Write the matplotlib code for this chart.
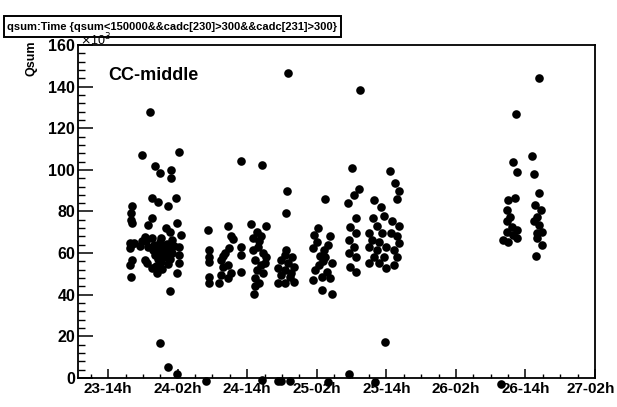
import matplotlib
matplotlib.use("Agg")
import matplotlib.pyplot as plt
import matplotlib.transforms as mtransforms
from matplotlib.patches import Rectangle

plt.rcParams['font.family'] = ['Liberation Sans', 'DejaVu Sans']

# time in hours since day 23, 00h ; qsum in units of 10^3
time_a = [18.2, 18.0, 18.0, 18.1, 17.8, 18.2, 17.8, 18.5, 18.2, 17.8, 17.9]
qsum_a = [82.7, 79.3, 75.9, 74.6, 64.9, 64.6, 62.5, 64.8, 56.7, 54.3, 48.6]

time_b = [21.2, 19.9, 26.3, 22.1, 23.0, 24.9, 24.9, 21.5, 22.6, 25.7, 24.4, 21.5,
          20.8, 25.9, 23.9, 24.7, 26.5, 20.3, 21.5, 23.2, 25.0, 26.2, 26.2, 20.4,
          20.7, 21.5, 22.4, 26.2, 25.9, 24.6,
          21.9, 22.4, 22.9, 23.4, 23.8, 24.2, 24.6, 22.0, 22.6, 23.1, 23.6, 24.1,
          24.6, 25.1, 22.3, 23.3, 24.4, 21.8, 23.0, 25.3, 20.9, 20.5, 19.8, 19.5,
          23.0, 24.3, 25.8, 30.9]
qsum_b = [128.0, 107.0, 108.8, 101.9, 98.7, 100.0, 95.9, 86.3, 84.7, 86.3, 82.7, 76.7,
          73.5, 74.6, 71.9, 70.3, 68.7, 67.6, 67.1, 67.1, 66.3, 63.1, 59.1, 56.7,
          55.1, 52.7, 50.3, 55.1, 50.3, 41.8,
          64.0, 62.0, 60.5, 63.0, 61.0, 58.5, 62.5, 59.0, 57.0, 55.5, 58.0, 64.5,
          57.0, 60.0, 54.0, 52.5, 55.0, 61.5, 65.5, 63.5, 63.0, 65.8, 66.0, 63.5,
          16.8, 5.3, 1.9, -1.3]

time_c = [31.2, 31.4, 31.4, 31.4, 31.4, 31.4, 34.6, 35.2, 34.9, 37.0, 37.0, 37.0,
          33.5, 33.8, 33.5, 33.2, 34.6, 35.2, 34.6, 35.5, 34.2, 33.9,
          37.0, 40.6, 44.9, 44.7, 45.1,
          38.7, 41.2, 39.6, 40.4, 39.0, 39.9, 40.7, 39.3, 41.0, 39.6, 40.7, 39.3,
          40.1, 39.3, 39.1, 41.3, 40.4, 39.0, 40.0,
          44.7, 45.7, 43.9, 45.1, 43.3, 44.5, 46.0, 43.9, 45.4, 43.3, 44.5, 46.0,
          44.5, 45.5,
          40.5, 43.3, 43.9, 45.4]
qsum_c = [71.1, 61.5, 58.3, 55.5, 48.6, 45.8, 73.0, 68.2, 62.3, 63.1, 59.1, 51.1,
          56.7, 53.5, 49.5, 45.8, 54.3, 50.3, 47.9, 67.0, 60.0, 58.5,
          104.4, 102.4, 89.7, 79.4, 146.7,
          74.0, 73.0, 70.3, 68.0, 67.1, 63.1, 59.9, 56.7, 55.1, 51.9, 50.3, 47.9,
          45.5, 44.0, 40.4, 58.3, 54.3, 61.5, 66.0,
          61.5, 58.3, 56.7, 55.1, 52.7, 51.9, 53.5, 49.5, 48.6, 45.5, 45.5, 46.3,
          59.0, 50.5,
          -0.8, -1.6, -1.6, -1.6]

time_d = [50.2, 49.6, 50.0, 49.4, 52.3, 52.0, 51.2, 51.4, 52.6, 50.3, 49.7, 51.7,
          50.9, 52.3, 49.4, 50.9, 52.6, 51.4, 50.6, 51.0, 51.9,
          56.0, 57.3, 56.4, 55.4, 57.5, 56.7, 55.8, 56.7, 55.5, 56.4, 55.5, 56.7,
          55.8, 56.7, 55.5]
qsum_d = [71.9, 68.7, 65.5, 62.3, 68.0, 63.9, 61.5, 58.3, 55.1, 54.3, 51.9, 51.1,
          48.6, 47.9, 47.1, 42.3, 40.4, 85.8, 58.5, 56.0, -2.0,
          100.7, 90.7, 87.9, 84.2, 138.4, 76.7, 72.4, 69.5, 66.3, 63.1, 59.9, 58.3,
          53.5, 51.1, 1.9]

time_e = [62.6, 63.5, 64.2, 63.9, 59.9, 61.0, 59.7, 60.4, 61.6, 63.0, 64.2, 59.0,
          61.3, 62.8, 63.9, 59.6, 60.7, 64.2, 59.0, 60.4, 61.9, 63.3, 59.9, 61.6,
          63.9, 59.0, 60.7, 63.3, 61.9, 61.8, 60.1]
qsum_e = [99.5, 93.5, 90.0, 85.9, 85.5, 82.3, 76.7, 72.8, 77.6, 75.3, 72.8, 69.5,
          69.5, 69.5, 68.0, 66.3, 65.5, 64.7, 63.1, 61.5, 63.1, 61.5, 58.3, 58.3,
          58.3, 55.1, 55.1, 54.3, 52.7, 17.4, -1.8]

time_f = [83.9, 84.5, 87.1, 87.4, 83.0, 84.2, 82.8, 83.3, 82.8, 83.6, 82.8, 83.9,
          82.2, 83.0, 84.5, 84.5, 88.3, 87.7, 88.6, 88.0, 87.4, 88.3, 88.8, 88.0,
          88.0, 88.8, 87.9, 88.3, 84.4, 81.7]
qsum_f = [104.0, 99.1, 106.7, 98.0, 85.5, 86.3, 80.7, 77.5, 75.3, 72.7, 70.3, 68.7,
          66.3, 65.5, 71.1, 67.1, 88.7, 83.1, 80.7, 77.5, 75.3, 73.5, 70.3, 69.5,
          67.1, 63.9, 58.6, 144.0, 126.9, -3.0]

tick_hours = [14, 26, 38, 50, 62, 74, 86, 98]
tick_labels = ['23-14h', '24-02h', '24-14h', '25-02h', '25-14h', '26-02h', '26-14h', '27-02h']
y_ticks = [0, 20, 40, 60, 80, 100, 120, 140, 160]

title = 'qsum:Time {qsum<150000&&cadc[230]>300&&cadc[231]>300}'

fig = plt.figure(figsize=(6.17, 4.07), dpi=100)
ax = fig.add_axes([78/617, 1 - 378/407, (595 - 78)/617, (378 - 45)/407])

times = time_a + time_b + time_c + time_d + time_e + time_f
qsums = qsum_a + qsum_b + qsum_c + qsum_d + qsum_e + qsum_f
ax.plot(times, qsums, 'o', color='black', ms=6.2, mew=0, clip_on=False, zorder=3)

ax.set_xlim(8.8, 98)
ax.set_ylim(0, 160)
ax.set_xticks(tick_hours)
ax.set_xticklabels(tick_labels, fontsize=11, fontweight='bold')
ax.set_xticks([h for h in range(11, 98, 3) if h not in tick_hours], minor=True)
ax.set_yticks(y_ticks)
ax.set_yticklabels([str(v) for v in y_ticks], fontsize=11.5, fontweight='bold')
ax.set_yticks([v for v in range(0, 161, 4) if v % 20], minor=True)

ax.tick_params(axis='y', which='major', direction='in', length=11, width=1.1, pad=2)
ax.tick_params(axis='y', which='minor', direction='in', length=5, width=1.0)
ax.tick_params(axis='x', which='major', direction='in', length=6.5, width=1.1, pad=3)
ax.tick_params(axis='x', which='minor', direction='in', length=3.2, width=1.0)
for s in ax.spines.values():
    s.set_linewidth(1.3)

# keep the last x label inside the figure
last = ax.get_xticklabels()[-1]
last.set_transform(last.get_transform() +
                   mtransforms.ScaledTranslation(-4/100, 0, fig.dpi_scale_trans))

# title box
fig.patches.append(Rectangle((4/617, 1 - 37/407), 337/617, 21/407,
                             transform=fig.transFigure, fc='white', ec='black',
                             lw=1.4, zorder=5))
ttl = fig.text(7/617, 1 - 26.5/407, title, fontsize=11, fontweight='bold',
               ha='left', va='center', zorder=6)
r = fig.canvas.get_renderer()
w = ttl.get_window_extent(r).width
ttl.set_fontsize(11 * 331 / w)

fig.text(31/617, 1 - 41/407, 'Qsum', rotation=90, fontsize=9, fontweight='bold',
         ha='center', va='top')
fig.text(80/617, 1 - 45.5/407, r'$\times$10$^{3}$', fontsize=9, ha='left',
         va='baseline', zorder=7)
fig.text(108/617, 1 - 76/407, 'CC-middle', fontsize=13, fontweight='bold',
         ha='left', va='center')

fig.savefig('out.png', dpi=100, facecolor='white')
